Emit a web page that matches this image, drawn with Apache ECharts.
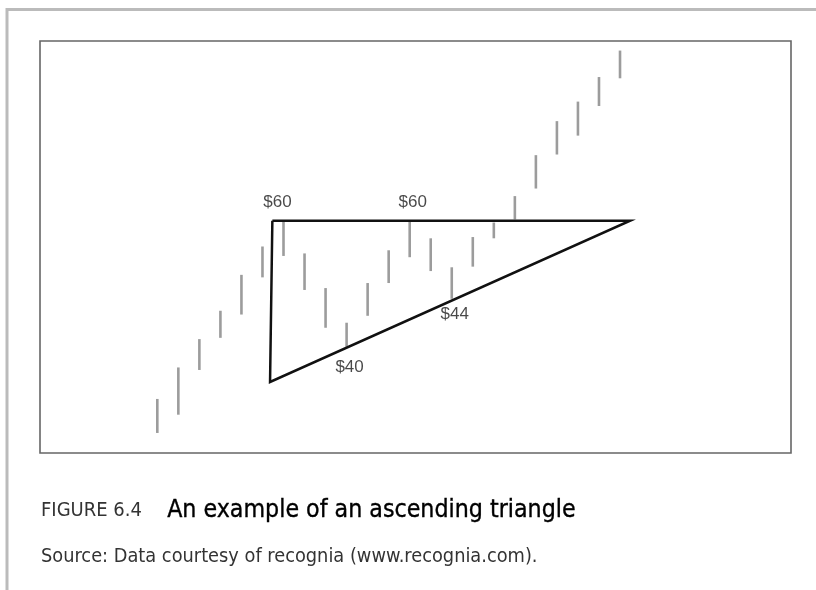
<!DOCTYPE html>
<html>
<head>
<meta charset="utf-8">
<script src="https://cdn.jsdelivr.net/npm/echarts@6/dist/echarts.min.js"></script>
<style>
html,body{margin:0;padding:0;background:#fff;}
#chart{width:816px;height:590px;}
</style>
</head>
<body>
<div id="chart"></div>
<script>
// Bar index (session number)
const sessions = [1,2,3,4,5,6,7,8,9,10,11,12,13,14,15,16,17,18,19,20,21,22,23];
// High / low price of each bar ($)
const highs = [31.7,36.7,41.2,45.7,51.4,55.9,60.0,54.8,49.3,43.8,50.1,55.3,60.0,57.2,52.6,57.4,59.7,63.9,70.4,75.8,78.9,82.8,87.0];
const lows  = [26.3,29.2,36.3,41.4,45.1,51.0,54.4,49.0,43.0,40.0,44.9,50.1,54.2,52.0,47.6,52.7,57.2,60.2,65.1,70.5,73.5,78.2,82.6];
// Triangle outline (session, price)
const triangleX = [6.47, 23.48, 6.36, 6.47];
const triangleY = [60, 60, 34.4, 60];
// Price annotations
const annotationText = ['$60', '$60', '$40', '$44'];
const annotationBar  = [7, 13, 10, 15];
const annotationSide = ['high', 'high', 'low', 'low'];
// Caption
const figureLabel = 'FIGURE 6.4';
const figureTitle = 'An example of an ascending triangle';
const figureSource = 'Source: Data courtesy of recognia (www.recognia.com).';

const chart = echarts.init(document.getElementById('chart'), null, {renderer: 'canvas'});

const barData = sessions.map((s, i) => [s, highs[i], lows[i]]);
const triData = triangleX.map((x, i) => [x, triangleY[i]]);

const sidePosition = {'high': 'top', 'low': 'bottom'};
const labelDx = [-6, 3, 3, 3];
const labelDist = [10, 10, 12, 7.5];

const annData = annotationText.map((t, i) => {
  const idx = sessions.indexOf(annotationBar[i]);
  const side = annotationSide[i];
  const v = side === 'high' ? highs[idx] : lows[idx];
  return {
    value: [annotationBar[i], v],
    label: {
      show: true,
      formatter: t,
      position: sidePosition[side],
      distance: labelDist[i],
      offset: [labelDx[i], 0]
    }
  };
});

const labelFont = "'Liberation Sans', Arial, sans-serif";
const capFont = "'DejaVu Sans Condensed', 'Liberation Sans Narrow', sans-serif";

chart.setOption({
  animation: false,
  backgroundColor: '#ffffff',
  grid: {
    left: 40, top: 41, width: 751, height: 412,
    show: true, borderColor: '#666666', borderWidth: 1.6, backgroundColor: 'transparent'
  },
  xAxis: {
    type: 'value', min: -4.578, max: 31.13,
    show: false
  },
  yAxis: {
    type: 'value', min: 23.12, max: 88.52,
    show: false
  },
  series: [
    {
      type: 'custom',
      data: barData,
      renderItem: function (params, api) {
        const p1 = api.coord([api.value(0), api.value(1)]);
        const p2 = api.coord([api.value(0), api.value(2)]);
        return {
          type: 'line',
          shape: {x1: p1[0], y1: p1[1], x2: p2[0], y2: p2[1]},
          style: {stroke: '#9c9c9c', lineWidth: 2.6}
        };
      },
      z: 1
    },
    {
      type: 'line',
      data: triData,
      symbol: 'none',
      lineStyle: {color: '#111111', width: 2.5, join: 'miter', miterLimit: 20},
      z: 3
    },
    {
      type: 'scatter',
      data: annData,
      symbolSize: 0,
      label: {
        show: true,
        color: '#1a1a1a',
        fontFamily: labelFont,
        fontSize: 17,
        lineHeight: 17
      },
      z: 4
    }
  ],
  graphic: [
    {
      type: 'polyline',
      shape: {points: [[7, 590], [7, 9.5], [816, 9.5]]},
      style: {stroke: '#bbbbbb', lineWidth: 3, fill: null},
      silent: true
    },
    {
      type: 'text', left: 41, top: 501,
      style: {text: figureLabel, font: "20px " + capFont, fill: '#333333'}
    },
    {
      type: 'text', left: 167, top: 498,
      style: {text: figureTitle, font: "24.7px " + capFont, fill: '#000000', stroke: '#000000', lineWidth: 0.35}
    },
    {
      type: 'text', left: 41, top: 547,
      style: {text: figureSource, font: "19.8px " + capFont, fill: '#333333'}
    }
  ]
});
</script>
</body>
</html>
